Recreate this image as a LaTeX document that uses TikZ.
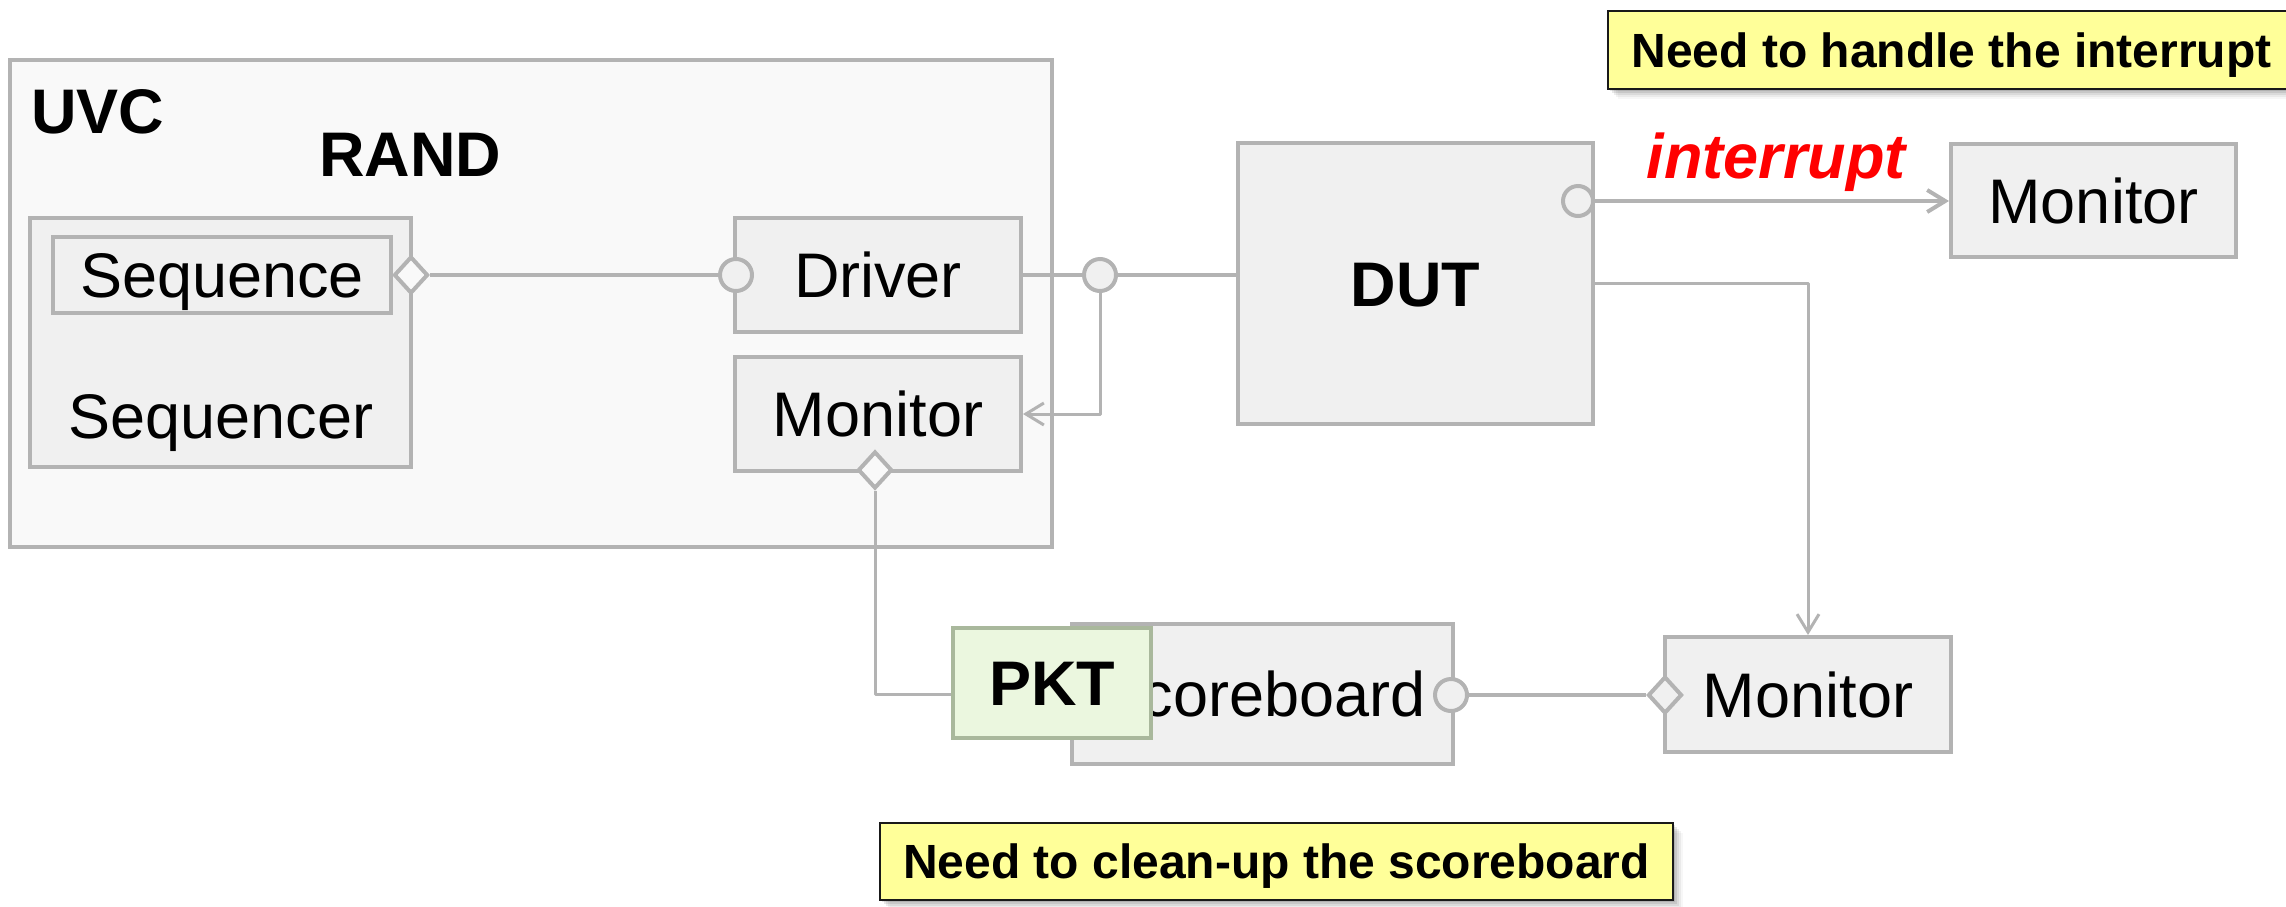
\documentclass[tikz,border=0pt]{standalone}
\usepackage{fontspec}
\setmainfont{Liberation Sans}
\usetikzlibrary{shapes.geometric,arrows.meta,shadows}

\definecolor{edgegray}{HTML}{B3B3B3}
\definecolor{boxgray}{HTML}{F0F0F0}
\definecolor{uvcgray}{HTML}{F9F9F9}
\definecolor{pktfill}{HTML}{EBF7DF}
\definecolor{pktedge}{HTML}{A9B89C}
\definecolor{notefill}{HTML}{FFFF99}
\definecolor{alertred}{HTML}{FF0000}

\newcommand\lblfont{\fontsize{31.5}{36}\selectfont}
\newcommand\notefont{\fontsize{24}{28}\selectfont\bfseries}

\begin{document}
\begin{tikzpicture}[x=0.5pt,y=-0.5pt,
  box/.style={draw=edgegray, fill=boxgray, line width=2pt, inner sep=0pt,
    font=\lblfont, text height=22.5pt, text depth=0pt},
  port/.style={circle, draw=edgegray, fill=boxgray, line width=2pt,
    inner sep=0pt, minimum size=16pt},
  agg/.style={diamond, draw=edgegray, fill=uvcgray, line width=2pt,
    inner sep=0pt, minimum width=17pt, minimum height=18.5pt},
  wire/.style={draw=edgegray, line width=2pt, line join=round},
  thinwire/.style={draw=edgegray, line width=1.5pt, line join=round},
  >={Straight Barb[length=9pt,width=11pt]},
  note/.style={draw=black!90, line width=1pt, fill=notefill, inner sep=0pt,
    font=\notefont, text height=17.2pt, text depth=0pt,
    drop shadow={shadow xshift=1pt,shadow yshift=-1pt,opacity=.10,fill=black},
    drop shadow={shadow xshift=2pt,shadow yshift=-2pt,opacity=.09,fill=black},
    drop shadow={shadow xshift=3pt,shadow yshift=-3pt,opacity=.07,fill=black},
    drop shadow={shadow xshift=4pt,shadow yshift=-4pt,opacity=.05,fill=black},
    drop shadow={shadow xshift=5pt,shadow yshift=-5pt,opacity=.03,fill=black}}
]
\useasboundingbox (0,0) rectangle (2286,906);
\clip (0,0) rectangle (2286,906);

% UVC container
\node[box, fill=uvcgray, minimum width=521pt, minimum height=243.5pt] (uvc) at (531,303.5) {};
\node[font=\lblfont\bfseries, anchor=base west, inner sep=0pt] (uvclabel) at (31,133) {UVC};
\node[font=\lblfont\bfseries, anchor=base west, inner sep=0pt] (randlabel) at (319,176) {RAND};

% sequencer with its sequence
\node[box, minimum width=190.5pt, minimum height=124.5pt] (sequencer) at (220,342.5) {};
\node[box, minimum width=169pt, minimum height=38pt] (sequence) at (222,275) {Sequence};
\node[font=\lblfont, anchor=base, inner sep=0pt] (seqrlabel) at (221,438) {Sequencer};

% driver and agent monitor
\node[box, minimum width=143pt, minimum height=57pt] (driver) at (878,275) {Driver};
\node[box, minimum width=143pt, minimum height=57pt] (mon1) at (878,414) {Monitor};

% DUT and external monitors
\node[box, minimum width=177.5pt, minimum height=140.5pt] (dut) at (1415.5,283.5) {\bfseries DUT};
\node[box, minimum width=142.5pt, minimum height=56.5pt] (mon2) at (2093.5,200.5) {Monitor};
\node[box, minimum width=143pt, minimum height=57.5pt] (mon3) at (1808,694.5) {Monitor};

% scoreboard and packet
\node[box, minimum width=190.5pt, minimum height=70pt] (sb) at (1262.5,694) {Scoreboard};
\node[box, draw=pktedge, fill=pktfill, minimum width=99pt, minimum height=55pt] (pkt) at (1052,683) {\bfseries PKT};

% ports and aggregation diamonds
\node[agg] (d1) at (411,275) {};
\node[port] (c1) at (736,275) {};
\node[port] (c2) at (1100,275) {};
\node[agg] (d2) at (875,470) {};
\node[port, minimum size=15pt] (c3) at (1578,201) {};
\node[port] (c4) at (1451,695) {};
\node[agg, fill=boxgray] (d3) at (1665,695) {};

% connections
\draw[wire] (d1.east) -- (c1.west);
\draw[wire] (driver.east) -- (c2.west);
\draw[wire] (c2.east) -- (c2.east -| dut.west);
\draw[thinwire, ->] (c2.south) |- (mon1.east);
\draw[thinwire] (d2.south) |- (pkt.west |- sb.center);
\draw[wire, ->] (c3.east) -- (c3.east -| mon2.west);
\draw[thinwire, ->] (dut.east) -| (mon3.north);
\draw[wire] (c4.east) -- (d3.west);

\node[font=\lblfont\bfseries\itshape, text=alertred, anchor=base, inner sep=0pt] (intlabel) at (1776,178) {interrupt};

% notes
\node[note, minimum width=343.5pt, minimum height=39pt] (note1) at (1951.5,50) {Need to handle the interrupt};
\node[note, minimum width=396.5pt, minimum height=38.5pt] (note2) at (1276.5,861.5) {Need to clean-up the scoreboard};
\end{tikzpicture}
\end{document}
